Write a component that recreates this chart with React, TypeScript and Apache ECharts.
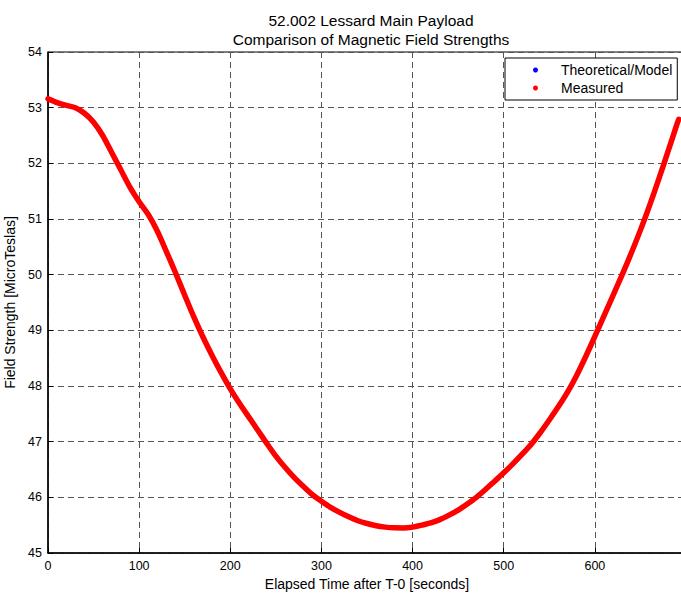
import React, { useEffect, useRef } from "react";
import * as echarts from "echarts";

const titleLines = ["52.002 Lessard Main Payload", "Comparison of Magnetic Field Strengths"];
const xAxisName = "Elapsed Time after T-0 [seconds]";
const yAxisName = "Field Strength [MicroTeslas]";
const seriesNames = ["Theoretical/Model", "Measured"];

// Elapsed time (s)
const times = [
  0, 10, 20, 30, 40, 50, 60, 70, 80, 90,
  100, 110, 120, 130, 140, 150, 160, 170, 180, 190,
  200, 210, 220, 230, 240, 250, 260, 270, 280, 290,
  300, 310, 320, 330, 340, 350, 360, 370, 380, 390,
  400, 410, 420, 430, 440, 450, 460, 470, 480, 490,
  500, 510, 520, 530, 540, 550, 560, 570, 580, 590,
  600, 610, 620, 630, 640, 650, 660, 670, 680, 690, 692,
];

// Measured field strength (microtesla)
const measured = [
  53.16, 53.09, 53.04, 53.0, 52.9, 52.74, 52.5, 52.19, 51.88, 51.57,
  51.31, 51.08, 50.78, 50.41, 50.03, 49.63, 49.24, 48.88, 48.55, 48.24,
  47.95, 47.69, 47.45, 47.21, 46.97, 46.74, 46.54, 46.36, 46.2, 46.05,
  45.93, 45.82, 45.73, 45.65, 45.58, 45.53, 45.49, 45.465, 45.452, 45.45,
  45.465, 45.5, 45.54, 45.6, 45.68, 45.77, 45.88, 46.0, 46.14, 46.29,
  46.44, 46.6, 46.77, 46.95, 47.16, 47.39, 47.63, 47.89, 48.19, 48.53,
  48.89, 49.26, 49.63, 50.0, 50.39, 50.8, 51.24, 51.71, 52.2, 52.7, 52.79,
];

// Model curve lies underneath the measured curve (hidden by it)
const model = measured;

const FONT = "'Liberation Sans', Arial, Helvetica, sans-serif";

export default function App() {
  const ref = useRef<HTMLDivElement>(null);
  useEffect(() => {
    if (!ref.current) return;
    const chart = echarts.init(ref.current, null, { renderer: "svg" });
    const toPairs = (ys: number[]) => times.map((t, i) => [t, ys[i]]);
    chart.setOption({
      animation: false,
      backgroundColor: "#ffffff",
      textStyle: { fontFamily: FONT },
      title: {
        text: titleLines.join("\n"),
        left: 366,
        top: 6,
        textAlign: "center",
        textStyle: {
          fontFamily: FONT,
          fontSize: 15.5,
          fontWeight: "normal",
          color: "#000",
          lineHeight: 19,
        },
      },
      legend: {
        orient: "vertical",
        left: 505,
        top: 58,
        padding: [4, 5, 4, 28],
        itemGap: 2,
        icon: "circle",
        itemWidth: 5,
        itemHeight: 5,
        backgroundColor: "#fff",
        borderColor: "#000",
        borderWidth: 1,
        borderRadius: 0,
        textStyle: {
          fontFamily: FONT,
          fontSize: 14,
          color: "#000",
          padding: [0, 0, 0, 18],
          lineHeight: 16,
        },
        data: seriesNames,
      },
      grid: {
        left: 48,
        top: 52,
        width: 638,
        height: 501,
        outerBoundsMode: "none",
        containLabel: false,
        show: true,
        borderColor: "#000",
        borderWidth: 1,
        backgroundColor: "#fff",
      },
      xAxis: {
        type: "value",
        min: 0,
        max: 700,
        interval: 100,
        name: xAxisName,
        nameLocation: "middle",
        nameGap: 23,
        nameTextStyle: { fontFamily: FONT, fontSize: 14, color: "#000" },
        axisLine: { show: true, lineStyle: { color: "#000", width: 1.5 } },
        axisTick: { show: true, inside: true, length: 5, lineStyle: { color: "#000" } },
        axisLabel: { fontFamily: FONT, fontSize: 12.5, color: "#000", margin: 6, showMaxLabel: false },
        splitLine: { show: true, lineStyle: { color: "#555", type: [6, 4], width: 1 } },
      },
      yAxis: {
        type: "value",
        min: 45,
        max: 54,
        interval: 1,
        name: yAxisName,
        nameLocation: "middle",
        nameGap: 28,
        nameTextStyle: { fontFamily: FONT, fontSize: 14, color: "#000" },
        axisLine: { show: true, lineStyle: { color: "#000", width: 1.5 } },
        axisTick: { show: true, inside: true, length: 5, lineStyle: { color: "#000" } },
        axisLabel: { fontFamily: FONT, fontSize: 12.5, color: "#000", margin: 6 },
        splitLine: { show: true, lineStyle: { color: "#555", type: [6, 4], width: 1 } },
      },
      series: [
        {
          name: seriesNames[0],
          type: "line",
          data: toPairs(model),
          showSymbol: false,
          smooth: 0.25,
          color: "#0000ff",
          lineStyle: { width: 4, color: "#0000ff" },
          z: 2,
        },
        {
          name: seriesNames[1],
          type: "line",
          data: toPairs(measured),
          showSymbol: false,
          smooth: 0.25,
          color: "#ff0000",
          lineStyle: { width: 5.5, color: "#ff0000", cap: "round", join: "round" },
          z: 3,
        },
      ],
    });
    return () => chart.dispose();
  }, []);
  return (
    <div
      ref={ref}
      style={{ position: "fixed", left: 0, top: 0, width: 681, height: 594 }}
    />
  );
}
